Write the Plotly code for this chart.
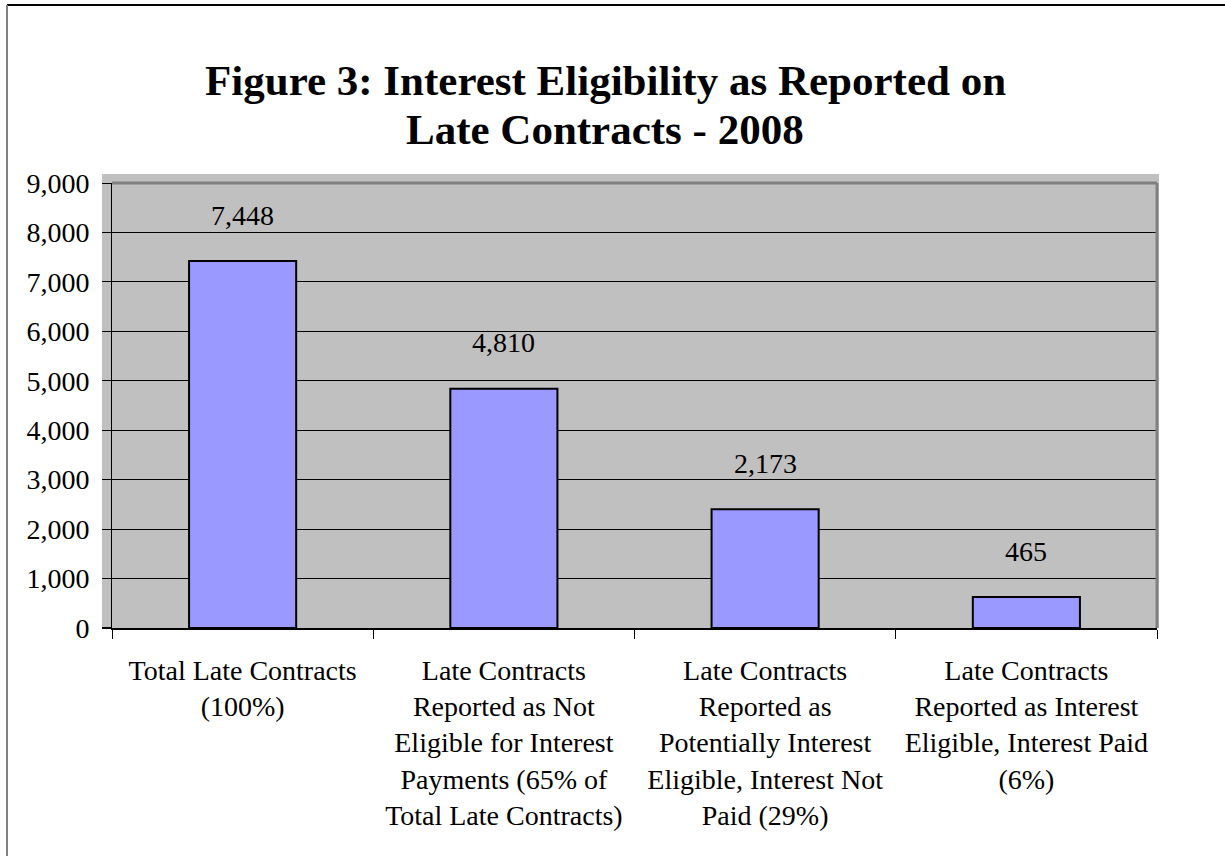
import plotly.graph_objects as go

# ---- data ----
categories = [
    "Total Late Contracts (100%)",
    "Late Contracts Reported as Not Eligible for Interest Payments (65% of Total Late Contracts)",
    "Late Contracts Reported as Potentially Interest Eligible, Interest Not Paid (29%)",
    "Late Contracts Reported as Interest Eligible, Interest Paid (6%)",
]
tick_labels = [
    "Total Late Contracts<br>(100%)",
    "Late Contracts<br>Reported as Not<br>Eligible for Interest<br>Payments (65% of<br>Total Late Contracts)",
    "Late Contracts<br>Reported as<br>Potentially Interest<br>Eligible, Interest Not<br>Paid (29%)",
    "Late Contracts<br>Reported as Interest<br>Eligible, Interest Paid<br>(6%)",
]
bar_heights = [7420, 4840, 2400, 625]          # bar tops as drawn in the picture
value_labels = ["7,448", "4,810", "2,173", "465"]  # data labels as printed
title_lines = ["Figure 3: Interest Eligibility as Reported on", "Late Contracts - 2008"]

# ---- geometry helpers (pixel -> paper) ----
W, H = 1225, 856
L, R, T, B = 112, 1157, 183, 628
def px(x):
    return (x - L) / (R - L)
def py(y):
    return (B - y) / (B - T)

FONT = "Liberation Serif, Times New Roman, serif"
WALL = "#c0c0c0"

fig = go.Figure()
fig.add_trace(go.Bar(
    x=categories, y=bar_heights, width=0.41,
    marker=dict(color="#9999ff", line=dict(color="black", width=2)),
    hoverinfo="skip", showlegend=False,
))

annotations = []
for c, h, t in zip(categories, bar_heights, value_labels):
    annotations.append(dict(x=c, y=h, xref="x", yref="y", text=t, showarrow=False,
                            yanchor="middle", yshift=46,
                            font=dict(family=FONT, size=28, color="black")))
for line, yc in zip(title_lines, [81, 129]):
    annotations.append(dict(x=px(605), y=py(yc), xref="paper", yref="paper", text="<b>%s</b>" % line,
                            showarrow=False, xanchor="center", yanchor="middle",
                            font=dict(family=FONT, size=43, color="black")))

shapes = [
    # wall behind plot area
    dict(type="rect", xref="paper", yref="paper", x0=px(102), x1=px(1159), y0=0, y1=py(174),
         fillcolor=WALL, line=dict(width=0), layer="below"),
    # darker top and right edges of plot area
    dict(type="line", xref="paper", yref="paper", x0=0, x1=1, y0=1, y1=1,
         line=dict(color="#808080", width=3), layer="above"),
    dict(type="line", xref="paper", yref="paper", x0=1, x1=1, y0=0, y1=1,
         line=dict(color="#808080", width=3), layer="above"),
    # x axis line extension to wall edge
    dict(type="line", xref="paper", yref="paper", x0=px(102), x1=0, y0=0, y1=0,
         line=dict(color="black", width=2), layer="above"),
    # outer frame
    dict(type="line", xref="paper", yref="paper", x0=px(7), x1=px(1225), y0=py(5), y1=py(5),
         line=dict(color="black", width=2)),
    dict(type="line", xref="paper", yref="paper", x0=px(7), x1=px(7), y0=py(5), y1=py(856),
         line=dict(color="#808080", width=2)),
]

fig.update_layout(
    width=W, height=H,
    margin=dict(l=L, r=W - R, t=T, b=H - B, pad=0),
    paper_bgcolor="white", plot_bgcolor=WALL,
    font=dict(family=FONT, size=28, color="black"),
    annotations=annotations, shapes=shapes,
    xaxis=dict(
        tickmode="array", tickvals=categories, ticktext=tick_labels,
        tickson="boundaries", ticks="outside", ticklen=9, tickcolor="black", tickwidth=1,
        showline=True, linecolor="black", linewidth=2, showgrid=False,
        tickfont=dict(family=FONT, size=28, color="black"), tickangle=0,
        ticklabelstandoff=16, fixedrange=True,
    ),
    yaxis=dict(
        range=[0, 9000], dtick=1000, tick0=0, tickformat=",d",
        ticks="outside", ticklen=9, tickcolor="black", tickwidth=1,
        showline=True, linecolor="black", linewidth=1,
        showgrid=True, gridcolor="black", gridwidth=1, zeroline=False,
        tickfont=dict(family=FONT, size=28, color="black"),
        ticklabelstandoff=7, fixedrange=True,
    ),
)

fig.write_html(
    "out.html",
    config={"displayModeBar": False},
    post_script="document.body.style.margin='0';document.documentElement.style.overflow='hidden';",
)
